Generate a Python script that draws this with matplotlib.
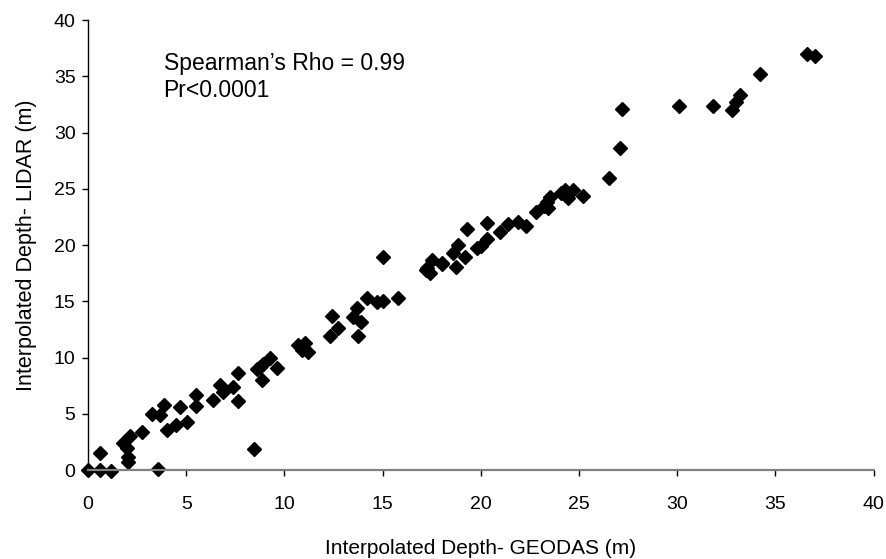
import matplotlib
matplotlib.use("Agg")
import matplotlib.pyplot as plt

plt.rcParams['font.family'] = ['Liberation Sans', 'DejaVu Sans']

geodas = [0.0, 0.6, 1.15, 0.6, 3.55, 8.45, 2.05, 2.05, 1.8, 2.14, 1.97,
          2.75, 3.24, 3.66, 3.87, 4.0, 4.5, 4.68, 5.02, 5.5, 5.5, 6.38, 6.7,
          6.89, 7.36, 7.65, 7.65, 8.58, 8.84, 8.9, 9.26, 9.6, 8.75,
          10.7, 10.87, 11.04, 11.2, 12.3, 12.4, 12.74, 13.5, 13.67, 13.75,
          13.9, 14.18, 14.7, 15.04, 15.04, 15.8,
          17.2, 17.24, 17.4, 17.5, 18.0, 18.0, 18.6, 18.76, 18.84, 19.18,
          19.27, 19.78, 20.0, 20.3, 20.3, 21.0, 21.4, 21.9, 22.3, 22.8,
          23.2, 23.35, 23.4, 23.5, 24.1, 24.3, 24.44, 24.7, 25.2,
          26.5, 27.1, 27.2, 30.1, 31.8, 32.8, 33.0, 33.2, 34.2, 36.6, 37.0]
lidar = [0.0, 0.0, -0.1, 1.5, 0.1, 1.9, 0.74, 1.19, 2.37, 3.0, 1.93,
         3.4, 4.97, 4.9, 5.8, 3.55, 4.0, 5.6, 4.3, 6.67, 5.7, 6.2, 7.55,
         6.96, 7.35, 6.16, 8.6, 8.95, 8.0, 9.4, 9.93, 9.04, 9.2,
         11.1, 10.7, 11.26, 10.46, 11.9, 13.7, 12.6, 13.6, 14.37, 11.9,
         13.2, 15.26, 14.96, 15.05, 18.9, 15.26,
         17.8, 18.0, 17.5, 18.7, 18.4, 18.3, 19.26, 18.07, 20.0, 18.9,
         21.4, 19.7, 19.9, 22.0, 20.5, 21.2, 21.9, 22.07, 21.7, 22.96,
         23.5, 23.85, 23.26, 24.3, 24.6, 24.9, 24.15, 24.9, 24.36,
         26.0, 28.65, 32.06, 32.35, 32.35, 32.0, 32.7, 33.3, 35.2, 37.0, 36.8]

ticks = [0, 5, 10, 15, 20, 25, 30, 35, 40]

fig = plt.figure(figsize=(8.87, 5.59), dpi=100)
ax = fig.add_axes([0.0992, 0.1592, 0.8858, 0.8048])

ax.plot(geodas, lidar, linestyle='none', marker='D', markersize=7.4,
        color='black', clip_on=False)

ax.set_xlim(0, 40)
ax.set_ylim(0, 40)
ax.set_xticks(ticks)
ax.set_yticks(ticks)
ax.tick_params(axis='both', labelsize=14, direction='out', length=4,
               width=1, colors='black')
ax.tick_params(axis='x', pad=14.5)
ax.tick_params(axis='y', pad=5)

for s in ['top', 'right']:
    ax.spines[s].set_visible(False)
ax.spines['bottom'].set_color('#808080')
ax.spines['bottom'].set_linewidth(1.6)
ax.spines['left'].set_color('black')
ax.spines['left'].set_linewidth(1)

ax.set_xlabel('Interpolated Depth- GEODAS (m)', fontsize=15, labelpad=19)
ax.set_ylabel('Interpolated Depth- LIDAR (m)', fontsize=15.5, labelpad=12)

ax.text(3.85, 34.95, 'Spearman\u2019s Rho = 0.99\nPr<0.0001', fontsize=16.5,
        va='center', ha='left', linespacing=1.2)

fig.savefig('out.png', dpi=100)
